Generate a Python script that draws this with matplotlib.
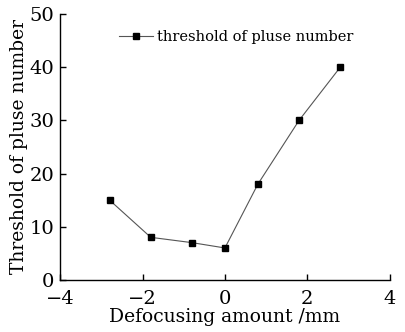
import matplotlib
matplotlib.use("Agg")
import matplotlib.pyplot as plt

defocus = [-2.8, -1.8, -0.8, 0.0, 0.8, 1.8, 2.8]
threshold = [15, 8, 7, 6, 18, 30, 40]
series_label = "threshold of pluse number"

plt.rcParams['font.family'] = ['DejaVu Serif']

fig = plt.figure(figsize=(4.06, 3.32), dpi=100)
ax = fig.add_axes([0.148, 0.157, 0.812, 0.801])

ax.plot(defocus, threshold, color='#555555', linewidth=0.8, marker='s',
        markersize=4, markerfacecolor='black', markeredgecolor='black',
        label=series_label)

ax.set_xlim(-4, 4)
ax.set_ylim(0, 50)
ax.set_xticks([-4, -2, 0, 2, 4])
ax.set_xticklabels(['\u22124', '\u22122', '0', '2', '4'])
ax.set_yticks([0, 10, 20, 30, 40, 50])

for side in ['top', 'right']:
    ax.spines[side].set_visible(False)
for side in ['left', 'bottom']:
    ax.spines[side].set_linewidth(1.0)

ax.tick_params(direction='in', length=4, width=1, labelsize=14)
ax.tick_params(axis='x', pad=7)
ax.tick_params(axis='y', pad=4)
ax.set_xlabel('Defocusing amount /mm', fontsize=13.5, labelpad=0)
ax.set_ylabel('Threshold of pluse number', fontsize=13.5, labelpad=1)

ax.legend(loc='upper center', bbox_to_anchor=(0.535, 0.99), frameon=False,
          fontsize=10.5, handlelength=2.3, handletextpad=0.3)

fig.savefig('out.png', dpi=100)
